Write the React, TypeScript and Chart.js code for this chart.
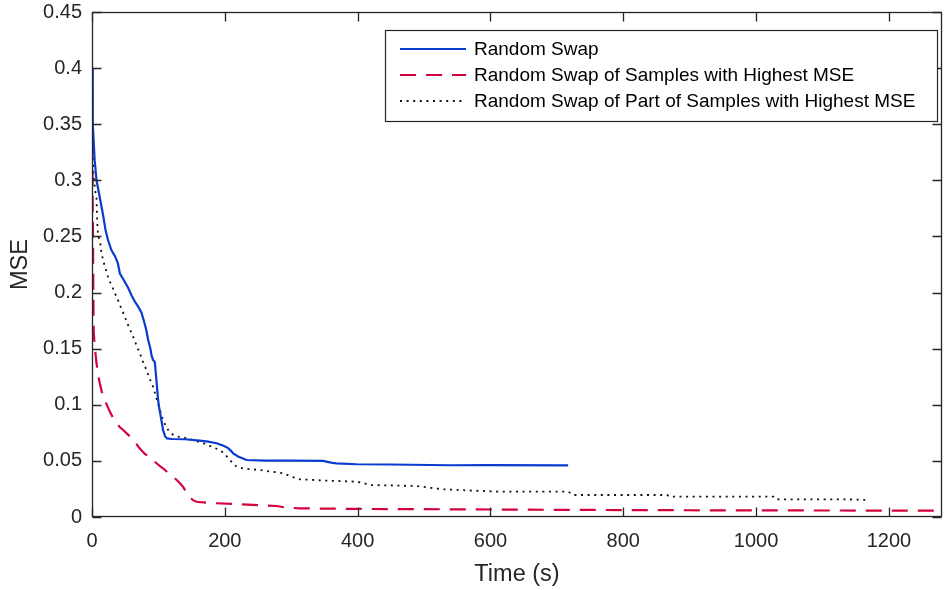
import React, { useEffect, useRef } from 'react';
import { Chart, registerables } from 'chart.js';

Chart.register(...registerables);

// ---- data ----
const seriesNames = [
  'Random Swap',
  'Random Swap of Samples with Highest MSE',
  'Random Swap of Part of Samples with Highest MSE',
];

const xTickValues = [0, 200, 400, 600, 800, 1000, 1200];
const yTickValues = [0, 0.05, 0.1, 0.15, 0.2, 0.25, 0.3, 0.35, 0.4, 0.45];

const swapTime = [0, 1, 1.2, 4, 6.8, 11.7, 17, 20.3, 24, 29, 35, 39, 42, 48, 54.6, 60, 64.5, 70, 74.5, 78.5, 82, 84.5, 88, 89.6, 92, 94.6, 97, 99.6, 101, 103.7, 107, 110, 113, 120, 140, 162, 175, 187.6, 198, 205, 210, 212.6, 220, 232.8, 260, 300, 348, 360, 368, 398.5, 450, 539, 600, 717];
const swapMse = [0.4, 0.383, 0.351, 0.318, 0.3, 0.285, 0.268, 0.256, 0.247, 0.238, 0.232, 0.226, 0.217, 0.211, 0.204, 0.197, 0.192, 0.187, 0.182, 0.174, 0.166, 0.158, 0.15, 0.144, 0.14, 0.138, 0.122, 0.104, 0.098, 0.089, 0.0775, 0.072, 0.07, 0.0695, 0.0693, 0.068, 0.0672, 0.0657, 0.0635, 0.0614, 0.0585, 0.0566, 0.054, 0.0508, 0.0503, 0.0502, 0.05, 0.0485, 0.0478, 0.047, 0.0468, 0.0461, 0.0462, 0.046];

const highTime = [0, 0.5, 1, 1.6, 2, 2.5, 4.2, 6.8, 9, 11.8, 15, 19.3, 23, 26.8, 32, 37, 42, 47, 55, 62, 67, 72, 80, 87, 95, 103, 110, 117, 124.8, 131, 137, 142, 147, 152, 157.5, 180, 212, 250, 278, 292, 313, 400, 528, 700, 900, 1100, 1280];
const highMse = [0.402, 0.33, 0.28, 0.24, 0.2, 0.165, 0.152, 0.137, 0.127, 0.119, 0.111, 0.104, 0.099, 0.094, 0.088, 0.0835, 0.08, 0.0775, 0.073, 0.0686, 0.065, 0.061, 0.056, 0.0535, 0.049, 0.045, 0.0419, 0.038, 0.0345, 0.031, 0.027, 0.022, 0.018, 0.015, 0.0136, 0.0124, 0.0116, 0.0106, 0.0098, 0.0084, 0.0077, 0.0072, 0.0069, 0.0064, 0.006, 0.0058, 0.0056];

const partTime = [0, 0.5, 1, 2, 3, 5, 6.8, 7.7, 9.2, 11.8, 14.3, 18, 21.8, 25, 29.4, 34, 39.3, 44, 49.4, 55, 62, 67, 72, 77, 82, 87, 92, 96, 99.6, 103, 107, 112, 117, 123, 129.7, 137, 150, 160, 167, 180, 192.5, 200, 207.6, 212, 217.7, 230, 252.8, 288, 300, 313, 350, 398.5, 410, 418.6, 489, 510, 529, 570, 615, 717, 725, 866, 870, 1026, 1030, 1150, 1167];
const partMse = [0.402, 0.37, 0.33, 0.31, 0.3, 0.29, 0.285, 0.265, 0.25, 0.247, 0.235, 0.226, 0.2186, 0.212, 0.2067, 0.2, 0.193, 0.186, 0.1785, 0.17, 0.1607, 0.153, 0.1459, 0.138, 0.131, 0.123, 0.116, 0.108, 0.101, 0.094, 0.0864, 0.08, 0.0755, 0.073, 0.0716, 0.071, 0.069, 0.0671, 0.066, 0.0627, 0.0597, 0.056, 0.0508, 0.048, 0.0448, 0.043, 0.0419, 0.0389, 0.036, 0.0336, 0.0325, 0.0315, 0.03, 0.0285, 0.0276, 0.026, 0.0247, 0.0236, 0.0226, 0.0226, 0.0196, 0.0196, 0.0181, 0.0181, 0.0158, 0.0156, 0.0151];

// ---- styles ----
const colors = ['#0a3bd0', '#d4023d', '#111111'];
const dashes = [[], [16, 10], [2, 4.6]];
const widths = [2.2, 2.2, 1.8];
const FONT = '"Liberation Sans", Arial, Helvetica, sans-serif';
const AXIS = '#262626';

const toPoints = (xs: number[], ys: number[]) => xs.map((x, i) => ({ x, y: ys[i] }));

const framePlugin = {
  id: 'frame',
  afterDatasetsDraw(chart: any) {
    const { ctx, chartArea: a, scales } = chart;
    ctx.save();
    ctx.strokeStyle = AXIS;
    ctx.lineWidth = 1.3;
    const L = Math.round(a.left) + 0.5;
    const R = Math.round(a.right) - 0.5;
    const T = Math.round(a.top) + 0.5;
    const B = Math.round(a.bottom) - 0.5;
    ctx.strokeRect(L, T, R - L, B - T);
    const tl = 9;
    ctx.beginPath();
    xTickValues.forEach((v) => {
      const px = Math.round(scales.x.getPixelForValue(v)) + 0.5;
      ctx.moveTo(px, B);
      ctx.lineTo(px, B - tl);
      ctx.moveTo(px, T);
      ctx.lineTo(px, T + tl);
    });
    yTickValues.forEach((v) => {
      const py = Math.round(scales.y.getPixelForValue(v)) + 0.5;
      ctx.moveTo(L, py);
      ctx.lineTo(L + tl, py);
      ctx.moveTo(R, py);
      ctx.lineTo(R - tl, py);
    });
    ctx.stroke();
    ctx.restore();
  },
  afterDraw(chart: any) {
    const { ctx } = chart;
    const bx = 385.5, by = 30.5, bw = 552, bh = 91;
    ctx.save();
    ctx.fillStyle = '#ffffff';
    ctx.fillRect(bx, by, bw, bh);
    ctx.strokeStyle = AXIS;
    ctx.lineWidth = 1.2;
    ctx.strokeRect(bx, by, bw, bh);
    const rows = [49, 75, 101];
    seriesNames.forEach((name, i) => {
      ctx.save();
      ctx.strokeStyle = colors[i];
      ctx.lineWidth = widths[i];
      ctx.setLineDash(dashes[i]);
      ctx.beginPath();
      ctx.moveTo(400, rows[i]);
      ctx.lineTo(466, rows[i]);
      ctx.stroke();
      ctx.restore();
      ctx.fillStyle = '#000000';
      ctx.font = `19px ${FONT}`;
      ctx.textBaseline = 'middle';
      ctx.textAlign = 'left';
      ctx.fillText(name, 474, rows[i] + 1);
    });
    ctx.restore();
  },
};

export default function App() {
  const ref = useRef<HTMLCanvasElement | null>(null);

  useEffect(() => {
    if (!ref.current) return;
    const chart = new Chart(ref.current, {
      type: 'line',
      data: {
        datasets: [
          { label: seriesNames[0], data: toPoints(swapTime, swapMse) },
          { label: seriesNames[1], data: toPoints(highTime, highMse) },
          { label: seriesNames[2], data: toPoints(partTime, partMse) },
        ].map((d, i) => ({
          ...d,
          borderColor: colors[i],
          backgroundColor: colors[i],
          borderWidth: widths[i],
          borderDash: dashes[i],
          borderCapStyle: 'butt' as const,
          pointRadius: 0,
          tension: 0,
          fill: false,
        })),
      },
      options: {
        animation: false,
        responsive: false,
        maintainAspectRatio: false,
        events: [],
        layout: { padding: { top: 12, right: 3, left: 0, bottom: 0 } },
        plugins: { legend: { display: false }, tooltip: { enabled: false } },
        scales: {
          x: {
            type: 'linear',
            min: 0,
            max: 1280,
            afterBuildTicks: (s: any) => {
              s.ticks = xTickValues.map((v) => ({ value: v }));
            },
            afterFit: (s: any) => {
              s.height = 73;
              s.paddingLeft = 0;
              s.paddingRight = 0;
            },
            grid: { display: false, drawTicks: false },
            border: { display: false },
            ticks: {
              font: { size: 20, family: FONT },
              color: AXIS,
              padding: 12,
              maxRotation: 0,
              autoSkip: false,
              callback: (v: any) => String(v),
            },
            title: {
              display: true,
              text: 'Time (s)',
              font: { size: 23.5, family: FONT },
              color: AXIS,
              padding: { top: 2, bottom: 1 },
            },
          },
          y: {
            type: 'linear',
            min: 0,
            max: 0.45,
            afterBuildTicks: (s: any) => {
              s.ticks = yTickValues.map((v) => ({ value: v }));
            },
            afterFit: (s: any) => {
              s.width = 92;
              s.paddingTop = 0;
              s.paddingBottom = 0;
            },
            grid: { display: false, drawTicks: false },
            border: { display: false },
            ticks: {
              font: { size: 20, family: FONT },
              color: AXIS,
              padding: 10,
              autoSkip: false,
              callback: (v: any) => String(parseFloat(Number(v).toFixed(2))),
            },
            title: {
              display: true,
              text: 'MSE',
              font: { size: 23.5, family: FONT },
              color: AXIS,
              padding: { top: 6, bottom: 0 },
            },
          },
        },
      },
      plugins: [framePlugin],
    } as any);
    return () => chart.destroy();
  }, []);

  return (
    <div style={{ position: 'absolute', left: 0, top: 0, width: 945, height: 590, background: '#ffffff' }}>
      <canvas ref={ref} width={945} height={590} style={{ width: 945, height: 590, display: 'block' }} />
    </div>
  );
}
